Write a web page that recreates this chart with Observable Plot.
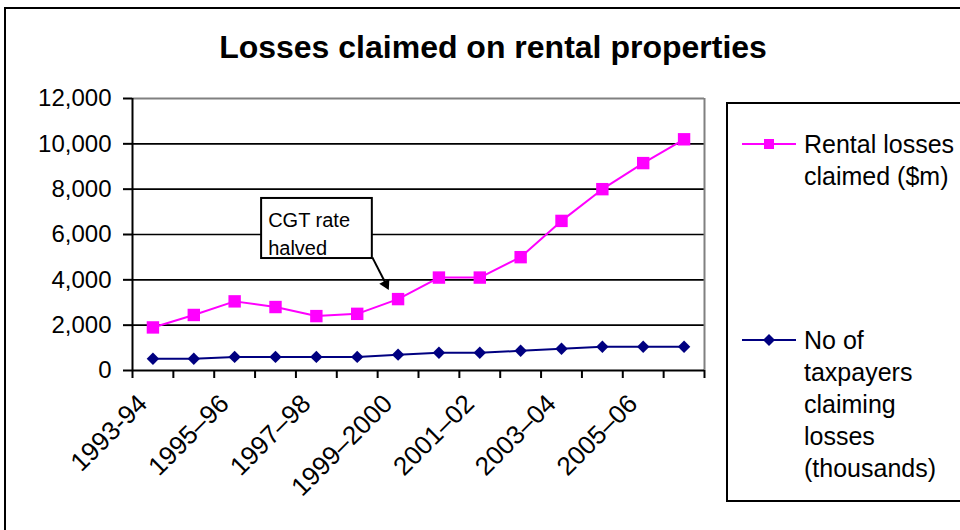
<!DOCTYPE html>
<html>
<head>
<meta charset="utf-8">
<script src="https://cdn.jsdelivr.net/npm/d3@7"></script>
<script src="https://cdn.jsdelivr.net/npm/@observablehq/plot@0.6"></script>
<style>
  html, body { margin: 0; padding: 0; background: #fff; }
  #wrap { position: relative; width: 960px; height: 530px; overflow: hidden; background: #fff; font-family: "Liberation Sans", Arial, sans-serif; color: #000; }
  #frame { position: absolute; left: 4px; top: 7px; width: 1000px; height: 600px; border: 2px solid #000; }
  #title { position: absolute; left: 0; top: 31px; width: 986px; text-align: center; font-weight: bold; font-size: 32px; line-height: 32px; }
  #chart { position: absolute; left: 0; top: 80px; }
  #legend { position: absolute; left: 726px; top: 102px; width: 300px; height: 396px; border: 2px solid #000; background: #fff; }
  .item { position: absolute; left: 0; width: 300px; }
  .item svg { position: absolute; left: 14px; top: 0; }
  .item .lbl { position: absolute; left: 76px; font-size: 25px; line-height: 32px; white-space: nowrap; }
</style>
</head>
<body>
<div id="wrap">
  <div id="frame"></div>
  <div id="title"></div>
  <div id="chart"></div>
  <div id="legend"></div>
</div>
<script>
// ---- data ----
const titleText = "Losses claimed on rental properties";
const categories = ["1993-94","1994–95","1995–96","1996–97","1997–98","1998–99","1999–2000","2000–01","2001–02","2002–03","2003–04","2004–05","2005–06","2006–07"];
const rentalLosses = [1900, 2450, 3050, 2800, 2400, 2500, 3150, 4100, 4100, 5000, 6600, 8000, 9150, 10200];
const taxpayers = [520, 520, 600, 600, 600, 600, 700, 780, 780, 870, 960, 1050, 1050, 1050];
const yTicks = [0, 2000, 4000, 6000, 8000, 10000, 12000];
const xLabelIndex = [0, 2, 4, 6, 8, 10, 12];
const seriesNames = ["Rental losses\nclaimed ($m)", "No of\ntaxpayers\nclaiming\nlosses\n(thousands)"];
const seriesColors = ["#FF00FF", "#000080"];
const annotationText = "CGT rate\nhalved";
const annotationBox = [{x1: 2.66, x2: 5.37, y1: 4940, y2: 7590}];
const annotationLabel = [{x: 2.82, y: 6130}];
const annotationShaft = [{x1: 5.37, y1: 4990, x2: 5.72, y2: 3760}];
const annotationHead = [{x: 5.70, y: 3810}];

// ---- build ----
document.getElementById("title").textContent = titleText;

const idx = categories.map((_, i) => i);
const rental = idx.map(i => ({i, v: rentalLosses[i]}));
const tax = idx.map(i => ({i, v: taxpayers[i]}));
const boundaries = d3.range(-0.5, categories.length, 1);

const plot = Plot.plot({
  width: 720,
  height: 450,
  marginTop: 18,
  marginBottom: 160,
  marginLeft: 132,
  marginRight: 16,
  style: {fontFamily: "'Liberation Sans', Arial, sans-serif", fontSize: "23px", color: "#000", background: "transparent", overflow: "visible"},
  x: {type: "linear", domain: [-0.5, categories.length - 0.5]},
  y: {domain: [0, 12000]},
  marks: [
    Plot.ruleY(yTicks.filter(t => t > 0 && t < 12000), {stroke: "#000", strokeWidth: 1.6}),
    Plot.ruleY([12000], {stroke: "#808080", strokeWidth: 2}),
    Plot.ruleX([categories.length - 0.5], {y1: 0, y2: 12000, stroke: "#808080", strokeWidth: 2}),
    Plot.ruleX([-0.5], {y1: 0, y2: 12000, stroke: "#000", strokeWidth: 2}),
    Plot.ruleY([0], {stroke: "#000", strokeWidth: 2}),
    Plot.axisY({ticks: yTicks, tickSize: 9, tickPadding: 12, tickFormat: d3.format(","), label: null, strokeWidth: 2, fontSize: 24}),
    Plot.axisX({ticks: boundaries, tickSize: 8, tickFormat: () => "", label: null, strokeWidth: 2}),
    Plot.axisX({ticks: xLabelIndex, tickSize: 0, tickPadding: 29, dx: -10, tickRotate: -45, tickFormat: i => categories[i], label: null, fontSize: 26}),
    Plot.line(tax, {x: "i", y: "v", stroke: seriesColors[1], strokeWidth: 2}),
    Plot.dot(tax, {x: "i", y: "v", symbol: "diamond2", r: 5.6, fill: seriesColors[1], stroke: "none"}),
    Plot.line(rental, {x: "i", y: "v", stroke: seriesColors[0], strokeWidth: 2}),
    Plot.dot(rental, {x: "i", y: "v", symbol: "square", r: 7, fill: seriesColors[0], stroke: "none"}),
    Plot.rect(annotationBox, {x1: "x1", x2: "x2", y1: "y1", y2: "y2", fill: "#fff", stroke: "#000", strokeWidth: 2}),
    Plot.text(annotationLabel, {x: "x", y: "y", text: () => annotationText, textAnchor: "start", lineAnchor: "middle", lineHeight: 1.4, fontSize: 20, fill: "#000"}),
    Plot.link(annotationShaft, {x1: "x1", y1: "y1", x2: "x2", y2: "y2", stroke: "#000", strokeWidth: 2}),
    Plot.dot(annotationHead, {x: "x", y: "y", symbol: "triangle", r: 4.2, rotate: 153, fill: "#000", stroke: "none"})
  ]
});
document.getElementById("chart").appendChild(plot);

// ---- legend ----
const legend = document.getElementById("legend");
const itemTops = [24, 220];
const symbols = ["square", "diamond"];
seriesNames.forEach((name, k) => {
  const item = document.createElement("div");
  item.className = "item";
  item.style.top = itemTops[k] + "px";
  const svg = d3.create("svg").attr("width", 56).attr("height", 32);
  svg.append("line").attr("x1", 0).attr("x2", 54).attr("y1", 16).attr("y2", 16)
    .attr("stroke", seriesColors[k]).attr("stroke-width", 2);
  if (symbols[k] === "square") {
    svg.append("rect").attr("x", 22).attr("y", 11).attr("width", 10).attr("height", 10).attr("fill", seriesColors[k]);
  } else {
    svg.append("path").attr("d", "M27,10L33,16L27,22L21,16Z").attr("fill", seriesColors[k]);
  }
  item.appendChild(svg.node());
  const lbl = document.createElement("div");
  lbl.className = "lbl";
  lbl.style.top = "0px";
  lbl.innerHTML = name.split("\n").join("<br>");
  item.appendChild(lbl);
  legend.appendChild(item);
});
</script>
</body>
</html>
